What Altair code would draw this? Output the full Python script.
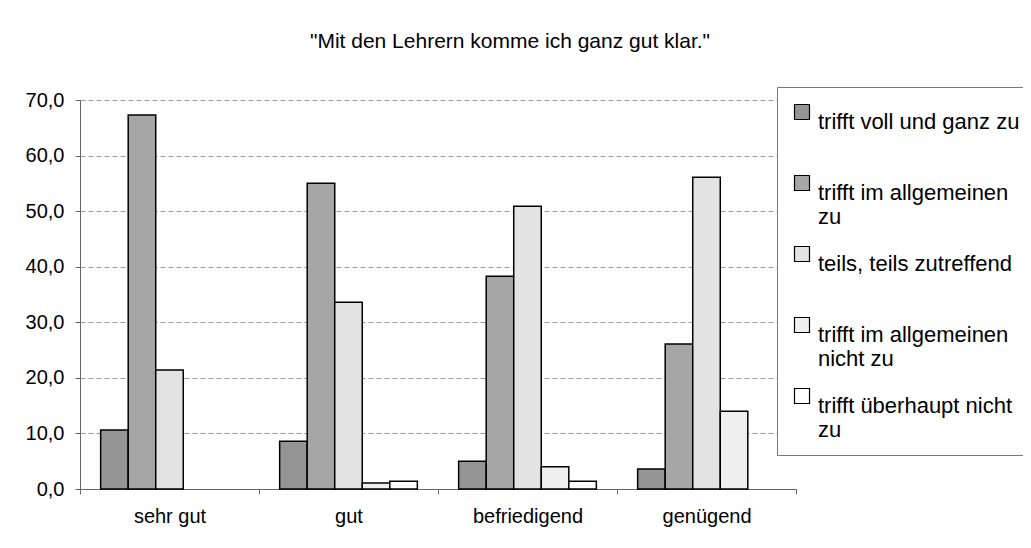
import altair as alt
import pandas as pd

categories = ["sehr gut", "gut", "befriedigend", "genügend"]
series = [
    "trifft voll und ganz zu|",
    "trifft im allgemeinen|zu",
    "teils, teils zutreffend|",
    "trifft im allgemeinen|nicht zu",
    "trifft überhaupt nicht|zu",
]
voll_und_ganz = [10.6, 8.6, 5.0, 3.6]
im_allgemeinen = [67.3, 55.0, 38.3, 26.1]
teils_teils = [21.4, 33.6, 50.9, 56.1]
allgemeinen_nicht = [0.0, 1.1, 4.0, 14.0]
ueberhaupt_nicht = [0.0, 1.4, 1.4, 0.0]
colors = ["#959595", "#a6a6a6", "#e3e3e3", "#efefef", "#ffffff"]
title_text = '"Mit den Lehrern komme ich ganz gut klar."'

value_lists = [voll_und_ganz, im_allgemeinen, teils_teils, allgemeinen_nicht, ueberhaupt_nicht]
rows = []
for s, vals in zip(series, value_lists):
    for c, v in zip(categories, vals):
        rows.append({"Kategorie": c, "Antwort": s, "Wert": v})
df = pd.DataFrame(rows)

FONT = "Liberation Sans"

chart = (
    alt.Chart(df)
    .transform_filter("datum.Wert > 0")
    .mark_bar(stroke="black", strokeWidth=1.5)
    .encode(
        x=alt.X(
            "Kategorie:N",
            sort=categories,
            scale=alt.Scale(domain=categories, paddingInner=0, paddingOuter=0),
            axis=alt.Axis(
                title=None,
                labelAngle=0,
                tickBand="extent",
                tickSize=5,
                tickColor="#666666",
                domainColor="#666666",
                labelFont=FONT,
                labelFontSize=20,
                labelColor="black",
                labelPadding=12,
            ),
        ),
        xOffset=alt.XOffset(
            "Antwort:N",
            scale=alt.Scale(domain=series, paddingInner=0, paddingOuter=0.75),
        ),
        y=alt.Y(
            "Wert:Q",
            scale=alt.Scale(domain=[0, 70], nice=False),
            axis=alt.Axis(
                title=None,
                values=[0, 10, 20, 30, 40, 50, 60, 70],
                labelExpr="replace(format(datum.value, '.1f'), '.', ',')",
                grid=True,
                gridDash=[5, 3],
                gridColor="#9a9a9a",
                gridWidth=1,
                tickSize=5,
                tickColor="#666666",
                domainColor="#666666",
                labelFont=FONT,
                labelFontSize=20,
                labelColor="black",
                labelPadding=11,
            ),
        ),
        fill=alt.Fill(
            "Antwort:N",
            scale=alt.Scale(domain=series, range=colors),
            legend=alt.Legend(
                title=None,
                orient="none",
                legendX=697,
                legendY=-13,
                padding=14,
                fillColor="white",
                strokeColor="#777777",
                symbolType="square",
                symbolSize=225,
                symbolStrokeColor="black",
                symbolStrokeWidth=1.2,
                symbolOpacity=1,
                labelFont=FONT,
                labelFontSize=22,
                labelColor="black",
                labelOffset=5,
                labelLimit=400,
                labelBaseline="top",
                rowPadding=15,
                labelExpr="split(datum.label, '|')",
            ),
        ),
    )
    .properties(
        width=716,
        height=389,
        autosize=alt.AutoSizeParams(type="none"),
        padding={"left": 72, "top": 92, "right": 227, "bottom": 40},
        title=alt.Title(
            title_text,
            font=FONT,
            fontSize=21,
            fontWeight="normal",
            color="black",
            anchor="middle",
            dx=72,
            offset=35,
        ),
    )
    .configure_view(stroke=None)
)

chart.save("out.html", embed_options={"renderer": "svg", "actions": False})
